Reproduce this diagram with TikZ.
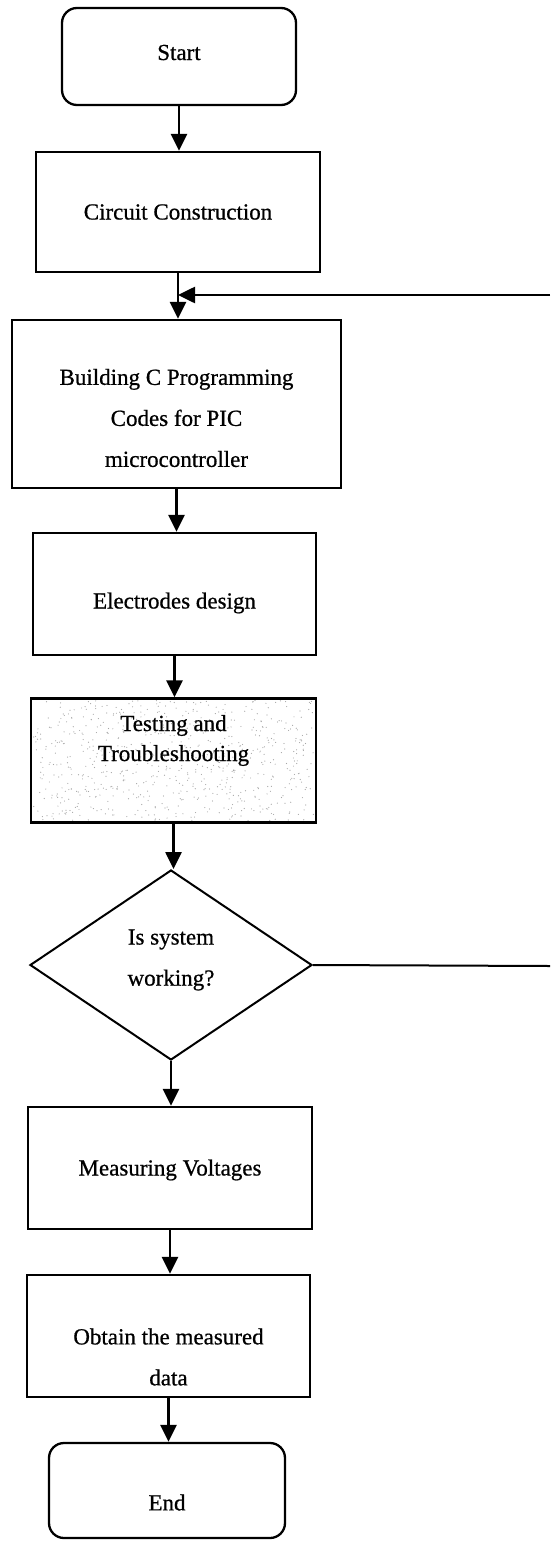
\documentclass[tikz,border=0pt]{standalone}
\usepackage{fontspec}
\setmainfont{Liberation Serif}[FakeBold=0.7]
\usetikzlibrary{arrows.meta,shapes.geometric,calc}
\tikzset{
  every picture/.style={line width=2.3pt},
  box/.style={draw, rectangle, inner sep=0pt},
  term/.style={draw, rectangle, rounded corners=15pt, inner sep=0pt},
  decision/.style={draw, diamond, inner sep=0pt, line width=2pt},
  lbl/.style={align=center, font=\fontsize{23}{41}\selectfont, inner sep=0pt},
  flow/.style={-{Triangle[length=17pt,width=16pt]}, line width=2.6pt},
  plain/.style={line width=2pt}
}
\begin{document}
\begin{tikzpicture}[x=1pt,y=-1pt]
\useasboundingbox (0,0) rectangle (550,1541);

% terminals and process boxes
\node[term, minimum width=234pt, minimum height=97pt,
      label={[lbl,yshift=4pt]center:Start}] (start) at (179,56.5) {};
\node[box, minimum width=284pt, minimum height=120pt,
      label={[lbl]center:Circuit Construction}] (circ) at (178,212) {};
\node[box, minimum width=329pt, minimum height=168pt,
      label={[lbl,yshift=-14pt]center:Building C Programming\\Codes for PIC\\microcontroller}] (code) at (176.5,404) {};
\node[box, minimum width=283pt, minimum height=122pt,
      label={[lbl,yshift=-9pt]center:Electrodes design}] (elec) at (174.5,594) {};

% testing box with a stippled fill
\node[minimum width=285pt, minimum height=124pt, inner sep=0pt] (test) at (173.5,760.5) {};
\begin{scope}
  \clip (test.south west) rectangle (test.north east);
  \pgfmathsetseed{7}
  \foreach \i in {1,...,700}{
    \fill[gray!70] ($(test.center)+(rand*140,rand*60)$) circle (0.6pt);
  }
\end{scope}
\node[box, minimum width=285pt, minimum height=124pt,
      label={[lbl,font=\fontsize{23}{30}\selectfont,yshift=20pt]center:Testing and\\Troubleshooting}] (testframe) at (test) {};

\node[decision, minimum width=282pt, minimum height=190pt, aspect=1.48,
      label={[lbl,yshift=5pt]center:Is system\\working?}] (dec) at (171,965) {};
\node[box, minimum width=284pt, minimum height=122pt,
      label={[lbl,yshift=-2pt]center:Measuring Voltages}] (meas) at (170,1168) {};
\node[box, minimum width=283pt, minimum height=122pt,
      label={[lbl,yshift=-21pt]center:Obtain the measured\\data}] (data) at (168.5,1336) {};
\node[term, minimum width=236pt, minimum height=95pt,
      label={[lbl,yshift=-12pt]center:End}] (end) at (167,1490.5) {};

% main flow
\draw[flow] (start.south) -- (start.south |- circ.north);
\draw[flow] (circ.south) -- (circ.south |- code.north);
\draw[flow] (code.south) -- (code.south |- elec.north);
\draw[flow] (elec.south) -- (elec.south |- testframe.north);
\draw[flow] (testframe.south) -- (testframe.south |- dec.north);
\draw[flow] (dec.south) -- (dec.south |- meas.north);
\draw[flow] (meas.south) -- (meas.south |- data.north);
\draw[flow] (data.south) -- (data.south |- end.north);

% loop back when the system is not working
\coordinate (loopout) at (550,966);
\coordinate (loopin) at (550,295);
\coordinate (join) at (178,295);
\draw[plain] (dec.east) -- (loopout);
\draw[flow] (loopin) -- (join);
\end{tikzpicture}
\end{document}
